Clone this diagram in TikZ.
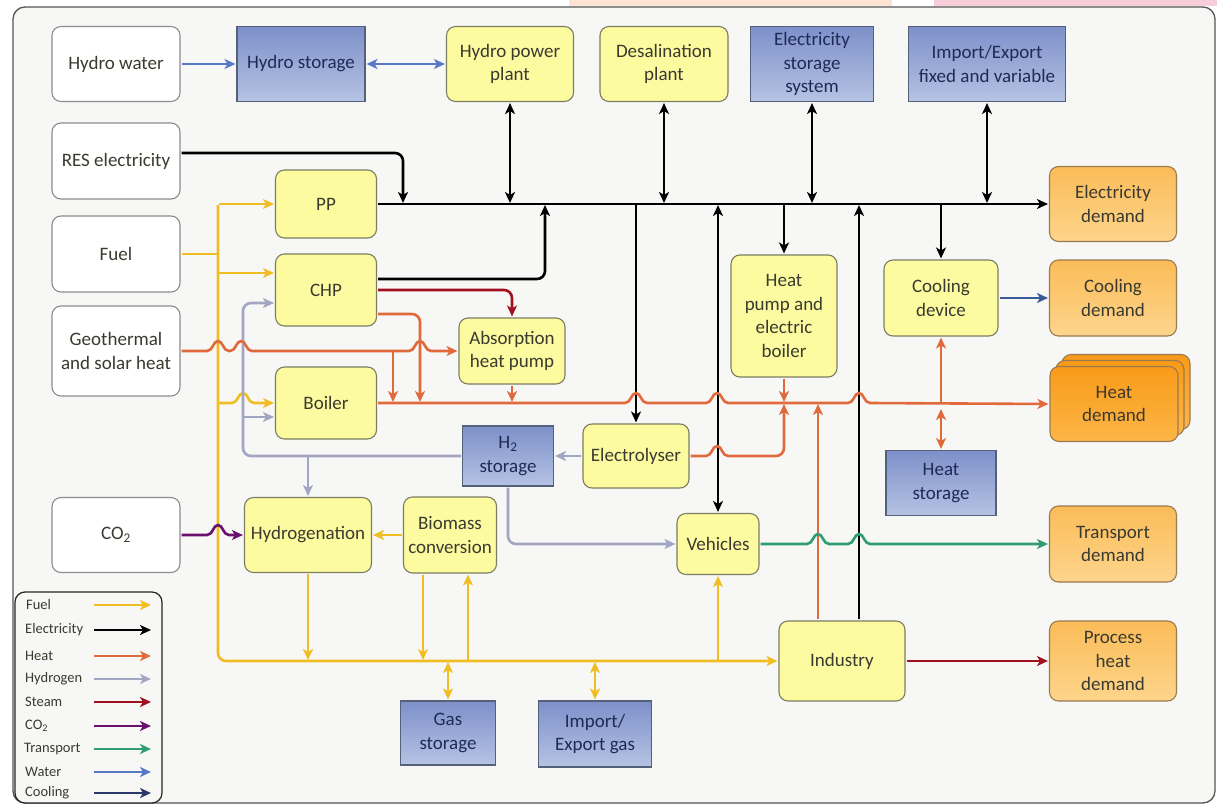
\documentclass[tikz,border=0pt]{standalone}
\usepackage{fontspec}
\setmainfont{Carlito}
\usetikzlibrary{arrows.meta,calc}
\definecolor{bgc}{HTML}{F7F7F5}
\definecolor{framec}{HTML}{555555}
\definecolor{yfill}{HTML}{FDFBA0}
\definecolor{ydraw}{HTML}{7D7D62}
\definecolor{wdraw}{HTML}{8C8C8C}
\definecolor{ofillA}{HTML}{FBBC58}
\definecolor{ofillB}{HTML}{FDD58C}
\definecolor{odraw}{HTML}{9A7A50}
\definecolor{hfillA}{HTML}{F89A18}
\definecolor{hfillB}{HTML}{FDB648}
\definecolor{bfillA}{HTML}{7D90C9}
\definecolor{bfillB}{HTML}{B6C3E4}
\definecolor{bdraw}{HTML}{55607A}
\definecolor{txt}{HTML}{3A3A30}
\definecolor{btxt}{HTML}{1F2A55}
\definecolor{cfuel}{HTML}{F0BE22}
\definecolor{cheat}{HTML}{E06A3C}
\definecolor{chyd}{HTML}{A3A6C2}
\definecolor{csteam}{HTML}{A0101E}
\definecolor{cco}{HTML}{6A106E}
\definecolor{ctrans}{HTML}{2E9E70}
\definecolor{cwater}{HTML}{5A78C8}
\definecolor{ccool}{HTML}{2A3A6A}
\definecolor{ccoolarrow}{HTML}{3A5A9A}
\definecolor{peach}{HTML}{FCE3D3}
\definecolor{pinkc}{HTML}{F6CDD8}
\tikzset{
  box/.style={rounded corners=9pt, line width=1.1pt, align=center, inner sep=0pt,
    font=\fontsize{19}{23.5}\selectfont, text=txt},
  wbox/.style={box, draw=wdraw, fill=white},
  ybox/.style={box, draw=ydraw, fill=yfill},
  obox/.style={box, draw=odraw, top color=ofillA, bottom color=ofillB},
  hbox/.style={box, draw=odraw, top color=hfillA, bottom color=hfillB},
  bbox/.style={box, sharp corners, draw=bdraw, top color=bfillA, bottom color=bfillB, text=btxt},
  flow/.style={line width=2.6pt, >={Stealth[length=11pt,width=10pt,inset=3pt]}, shorten >=1pt, shorten <=1pt},
  elec/.style={flow, draw=black},
  fuel/.style={flow, draw=cfuel},
  heat/.style={flow, draw=cheat},
  hydr/.style={flow, draw=chyd},
  steam/.style={flow, draw=csteam},
  cotwo/.style={flow, draw=cco},
  trans/.style={flow, draw=ctrans},
  water/.style={flow, draw=cwater},
  cool/.style={flow, draw=ccoolarrow},
  legtext/.style={anchor=west, font=\fontsize{14.5}{16}\selectfont, text=txt, inner sep=0pt},
  hump/.style args={#1/#2}{insert path={-- ({#1-11},#2) .. controls ({#1-5},#2) and ({#1-5},{#2-10}) .. (#1,{#2-10}) .. controls ({#1+5},{#2-10}) and ({#1+5},#2) .. ({#1+11},#2)}},
}
\begin{document}
\begin{tikzpicture}[x=1pt,y=-1pt]
\useasboundingbox (0,0) rectangle (1217,805);
\fill[white] (0,0) rectangle (1217,805);
\fill[peach] (569,0) rectangle (892,6);
\fill[pinkc] (934,0) rectangle (1217,6);
\draw[line width=1.3pt, draw=framec, fill=bgc, rounded corners=12pt] (13,7) rectangle (1215,803);

% nodes
\node[wbox, minimum width=128pt, minimum height=75pt] (hw) at (116,64) {Hydro water};
\node[bbox, minimum width=128pt, minimum height=75pt] (hs) at (301,64) {Hydro storage};
\node[ybox, minimum width=127pt, minimum height=75pt] (hpp) at (510,64) {Hydro power\\plant};
\node[ybox, minimum width=128pt, minimum height=75pt] (desal) at (664,64) {Desalination\\plant};
\node[bbox, minimum width=123pt, minimum height=75pt] (ess) at (812,64) {Electricity\\storage\\system};
\node[bbox, minimum width=157pt, minimum height=75pt] (iex) at (987,64) {Import/Export\\fixed and variable};
\node[wbox, minimum width=128pt, minimum height=76pt] (res) at (116,161) {RES electricity};
\node[ybox, minimum width=101pt, minimum height=68pt] (pp) at (326,204) {PP};
\node[obox, minimum width=127pt, minimum height=75pt] (ed) at (1113,204) {Electricity\\demand};
\node[wbox, minimum width=128pt, minimum height=76pt] (fuel) at (116,254) {Fuel};
\node[ybox, minimum width=101pt, minimum height=72pt] (chp) at (326,290) {CHP};
\node[ybox, minimum width=114pt, minimum height=76pt] (cd) at (941,298) {Cooling\\device};
\node[obox, minimum width=127pt, minimum height=76pt] (cdem) at (1113,298) {Cooling\\demand};
\node[wbox, minimum width=128pt, minimum height=90pt] (geo) at (116,351) {Geothermal\\and solar heat};
\node[ybox, minimum width=106pt, minimum height=66pt] (ahp) at (512,351) {Absorption\\heat pump};
\node[ybox, minimum width=106pt, minimum height=122pt] (hp) at (784,316) {Heat\\pump and\\electric\\boiler};
\node[ybox, minimum width=101pt, minimum height=72pt] (boiler) at (326,403) {Boiler};
% heat demand stack
\node[hbox, minimum width=128pt, minimum height=75pt] (hdb) at (1126,392) {};
\node[hbox, minimum width=128pt, minimum height=75pt] (hdm) at (1120,398) {};
\node[hbox, minimum width=128pt, minimum height=75pt] (hd) at (1114,404) {Heat\\demand};
\node[bbox, minimum width=91pt, minimum height=60pt] (h2) at (508,456) {H\textsubscript{2}\\storage};
\node[ybox, minimum width=106pt, minimum height=64pt] (el) at (636,456) {Electrolyser};
\node[bbox, minimum width=110pt, minimum height=65pt] (hst) at (941,483) {Heat\\storage};
\node[wbox, minimum width=128pt, minimum height=75pt] (co2) at (116,535) {CO\textsubscript{2}};
\node[ybox, minimum width=127pt, minimum height=75pt] (hyd) at (308,535) {Hydrogenation};
\node[ybox, minimum width=93pt, minimum height=76pt] (bio) at (450,535) {Biomass\\conversion};
\node[ybox, minimum width=82pt, minimum height=61pt] (veh) at (718,544) {Vehicles};
\node[obox, minimum width=127pt, minimum height=76pt] (td) at (1113,544) {Transport\\demand};
\node[ybox, minimum width=126pt, minimum height=80pt] (ind) at (842,661) {Industry};
\node[obox, minimum width=127pt, minimum height=80pt] (phd) at (1113,661) {Process\\heat\\demand};
\node[bbox, minimum width=95pt, minimum height=64pt] (gs) at (448,733) {Gas\\storage};
\node[bbox, minimum width=113pt, minimum height=66pt] (ieg) at (595,734) {Import/\\Export gas};

% helper coordinates
\coordinate (ftop) at (218,204);
\coordinate (fbot) at (218,661);
\coordinate (resdrop) at (403,204);
\coordinate (chprise) at (545,204);
\coordinate (hcorner) at (243,303);
\coordinate (hboil) at (243,417);
\coordinate (gj) at (393,351);
\coordinate (chpdrop) at (420,403);
\coordinate (elrise) at (784,403);

% water
\draw[water,->] (hw.east) -- (hs.west);
\draw[water,<->] (hs.east) -- (hpp.west);

% electricity
\draw[elec,->] (pp.east) -- (ed.west);
\draw[elec,->,rounded corners=8pt] ([yshift=8pt]res.east) -| (resdrop);
\draw[elec,<->] (hpp.south) -- (hpp.south |- pp.east);
\draw[elec,<->] (desal.south) -- (desal.south |- pp.east);
\draw[elec,<->] (ess.south) -- (ess.south |- pp.east);
\draw[elec,<->] (iex.south) -- (iex.south |- pp.east);
\draw[elec,->,rounded corners=8pt] ([yshift=11pt]chp.east) -| (chprise);
\draw[elec,->] (el.north |- pp.east) -- (el.north);
\draw[elec,<->] (veh.north |- pp.east) -- (veh.north);
\draw[elec,->] (hp.north |- pp.east) -- (hp.north);
\draw[elec,->] ([xshift=17pt]ind.north) -- ([xshift=17pt]ind.north |- pp.east);
\draw[elec,->] (cd.north |- pp.east) -- (cd.north);

% fuel
\draw[fuel] (fuel.east) -- (fuel.east -| ftop);
\draw[fuel,->] (ftop) -- (pp.west);
\draw[fuel,->,rounded corners=8pt] (ftop) -- (fbot) -- (ind.west);
\coordinate (chpF) at ([yshift=17pt]chp.west);
\draw[fuel,->] (chpF -| ftop) -- (chpF);
\draw[fuel,->] (boiler.west -| ftop) [hump=243/403] -- (boiler.west);
\draw[fuel,->] (hyd.south) -- (hyd.south |- fbot);
\draw[fuel,->] ([xshift=-27pt]bio.south) -- ([xshift=-27pt]bio.south |- fbot);
\draw[fuel,->] ([xshift=18pt]bio.south |- fbot) -- ([xshift=18pt]bio.south);
\draw[fuel,<->] (gs.north) -- (gs.north |- fbot);
\draw[fuel,<->] (ieg.north) -- (ieg.north |- fbot);
\draw[fuel,->] (veh.south |- fbot) -- (veh.south);
\draw[fuel,->] (bio.west) -- (hyd.east);

% hydrogen
\draw[hydr,->] (el.west) -- (h2.east);
\draw[hydr,->,rounded corners=8pt] (h2.west) -| (hcorner) -- ([yshift=-13pt]chp.west);
\draw[hydr,->] (hboil) -- ([yshift=-14pt]boiler.west);
\draw[hydr,->] (hyd.north |- h2.west) -- (hyd.north);
\draw[hydr,->,rounded corners=8pt] (h2.south) |- (veh.west);

% heat
\draw[heat,->] (geo.east) [hump=218/351] [hump=241/351] [hump=420/351] -- (ahp.west);
\draw[heat,->] (gj) -- (gj |- boiler.east);
\draw[heat,->,rounded corners=8pt] ([yshift=-24pt]chp.east) -| (chpdrop);
\draw[steam,->,rounded corners=8pt] (chp.east) -| (ahp.north);
\draw[heat,->] (ahp.south) -- (ahp.south |- boiler.east);
\draw[heat,->] (boiler.east) [hump=636/403] [hump=717/403] [hump=859/403] -- (hd.west);
\draw[heat,->] (hp.south) -- (hp.south |- boiler.east);
\draw[heat,->] (el.east) [hump=717/456] [rounded corners=8pt] -| (elrise);
\draw[heat,->] ([xshift=-24pt]ind.north) -- ([xshift=-24pt]ind.north |- boiler.east);
\draw[heat,->] (cd.south |- boiler.east) -- (cd.south);
\draw[heat,<->] ([yshift=-5pt]hst.north |- boiler.east) -- (hst.north);

% transport, steam, co2, cooling
\draw[trans,->] (veh.east) [hump=818/544] [hump=859/544] -- (td.west);
\draw[steam,->] (ind.east) -- (phd.west);
\draw[cotwo,->] (co2.east) [hump=218/535] -- (hyd.west);
\draw[cool,->] (cd.east) -- (cdem.west);

% legend
\draw[line width=1.2pt, draw=black!85, fill=bgc, rounded corners=10pt] (15,592) rectangle (162,803);
\node[legtext] (lfuel) at (26,605) {Fuel};
\node[legtext] (lelec) at (25,630) {Electricity};
\node[legtext] (lheat) at (25,656) {Heat};
\node[legtext] (lhyd) at (25,679) {Hydrogen};
\node[legtext] (lsteam) at (25,702) {Steam};
\node[legtext] (lco) at (25,726) {CO\textsubscript{2}};
\node[legtext] (ltrans) at (24,749) {Transport};
\node[legtext] (lwater) at (25,772) {Water};
\node[legtext] (lcool) at (25,793) {Cooling};
\draw[fuel,->] (93,605) -- (152,605);
\draw[elec,->] (93,630) -- (152,630);
\draw[heat,->] (93,656) -- (152,656);
\draw[hydr,->] (93,679) -- (152,679);
\draw[steam,->] (93,702) -- (152,702);
\draw[cotwo,->] (93,726) -- (152,726);
\draw[trans,->] (93,749) -- (152,749);
\draw[water,->] (93,772) -- (152,772);
\draw[draw=ccool,flow,->] (93,793) -- (152,793);
\end{tikzpicture}
\end{document}
